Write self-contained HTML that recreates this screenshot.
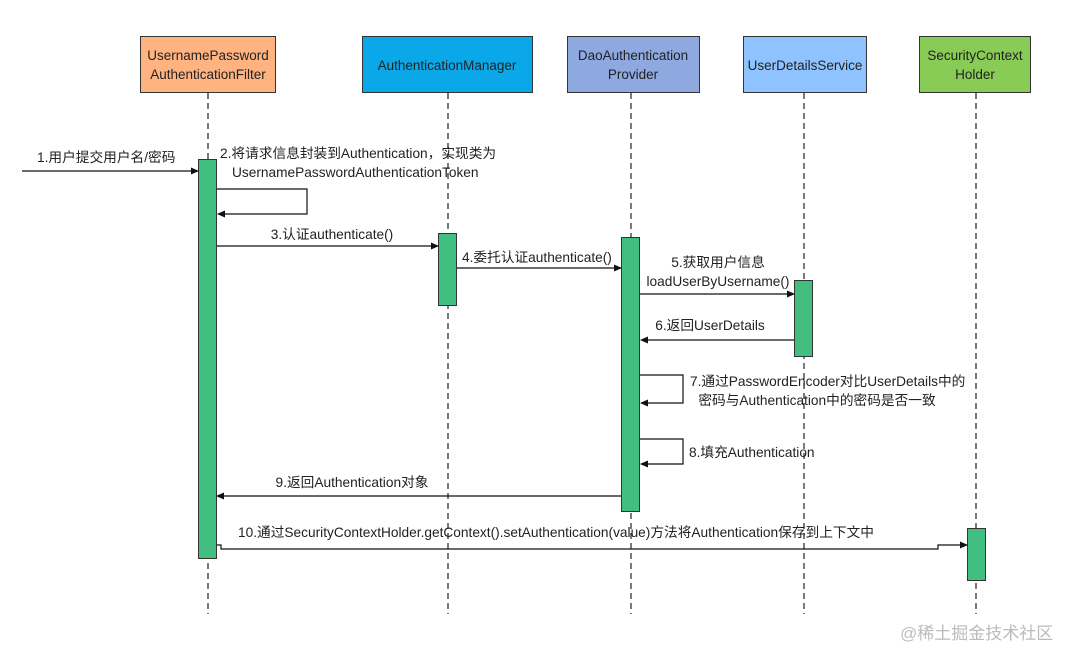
<!DOCTYPE html>
<html><head><meta charset="utf-8"><style>
html,body{margin:0;padding:0;background:#fff;}
svg{display:block;}
text{font-family:"Liberation Sans","Noto Sans CJK SC",sans-serif;font-size:13.7px;fill:#222;}
.h text{font-size:13.5px;}
</style></head><body>
<svg width="1067" height="650" viewBox="0 0 1067 650" xmlns="http://www.w3.org/2000/svg">
<defs><marker id="a" markerWidth="8" markerHeight="8" refX="7" refY="4" orient="auto" markerUnits="userSpaceOnUse"><path d="M0,0.5 L8,4 L0,7.5 z" fill="#111"/></marker></defs>
<g stroke="#333" stroke-width="1.3" stroke-dasharray="6,4">
<line x1="208" y1="93" x2="208" y2="614"/>
<line x1="448" y1="93" x2="448" y2="614"/>
<line x1="631" y1="93" x2="631" y2="614"/>
<line x1="804" y1="93" x2="804" y2="614"/>
<line x1="976" y1="93" x2="976" y2="614"/>
</g>
<g stroke="#333" stroke-width="1">
<rect x="140.5" y="36.5" width="135" height="56" fill="#FFB380"/>
<rect x="362.5" y="36.5" width="170" height="56" fill="#0AA8E8"/>
<rect x="567.5" y="36.5" width="132" height="56" fill="#8EA8E0"/>
<rect x="743.5" y="36.5" width="123" height="56" fill="#8EC3FF"/>
<rect x="919.5" y="36.5" width="111" height="56" fill="#88CC55"/>
</g>
<g text-anchor="middle" class="h">
<text x="208" y="60">UsernamePassword</text><text x="208" y="79">AuthenticationFilter</text>
<text x="447" y="70">AuthenticationManager</text>
<text x="633" y="60">DaoAuthentication</text><text x="633" y="79">Provider</text>
<text x="805" y="70">UserDetailsService</text>
<text x="975" y="60">SecurityContext</text><text x="975" y="79">Holder</text>
</g>
<g fill="#41BE80" stroke="#333" stroke-width="1">
<rect x="198.5" y="159.5" width="18" height="399"/>
<rect x="438.5" y="233.5" width="18" height="72"/>
<rect x="621.5" y="237.5" width="18" height="274"/>
<rect x="794.5" y="280.5" width="18" height="76"/>
<rect x="967.5" y="528.5" width="18" height="52"/>
</g>
<g stroke="#111" stroke-width="1.2" fill="none" marker-end="url(#a)">
<line x1="22" y1="171" x2="198" y2="171"/>
<path d="M217,189 H307 V214 H218"/>
<line x1="217" y1="246" x2="438" y2="246"/>
<line x1="457" y1="268" x2="621" y2="268"/>
<line x1="640" y1="294" x2="794" y2="294"/>
<line x1="794" y1="340" x2="641" y2="340"/>
<path d="M640,375 H683 V403 H641"/>
<path d="M640,439 H683 V464 H641"/>
<line x1="621" y1="496" x2="217" y2="496"/>
<path d="M217,545 H221 V549 H938 V545 H967"/>
</g>
<text x="37" y="162">1.用户提交用户名/密码</text>
<text x="220" y="158">2.将请求信息封装到Authentication，实现类为</text>
<text x="232" y="177">UsernamePasswordAuthenticationToken</text>
<text x="332" y="239" text-anchor="middle">3.认证authenticate()</text>
<text x="462" y="262">4.委托认证authenticate()</text>
<text x="718" y="267" text-anchor="middle">5.获取用户信息</text>
<text x="718" y="286" text-anchor="middle">loadUserByUsername()</text>
<text x="710" y="330" text-anchor="middle">6.返回UserDetails</text>
<text x="690" y="386">7.通过PasswordEncoder对比UserDetails中的</text>
<text x="817" y="405" text-anchor="middle">密码与Authentication中的密码是否一致</text>
<text x="689" y="457">8.填充Authentication</text>
<text x="352" y="487" text-anchor="middle">9.返回Authentication对象</text>
<text x="238" y="537">10.通过SecurityContextHolder.getContext().setAuthentication(value)方法将Authentication保存到上下文中</text>
<text x="900" y="639" style="fill:#bbb;font-size:17px">@稀土掘金技术社区</text>
</svg>
</body></html>
